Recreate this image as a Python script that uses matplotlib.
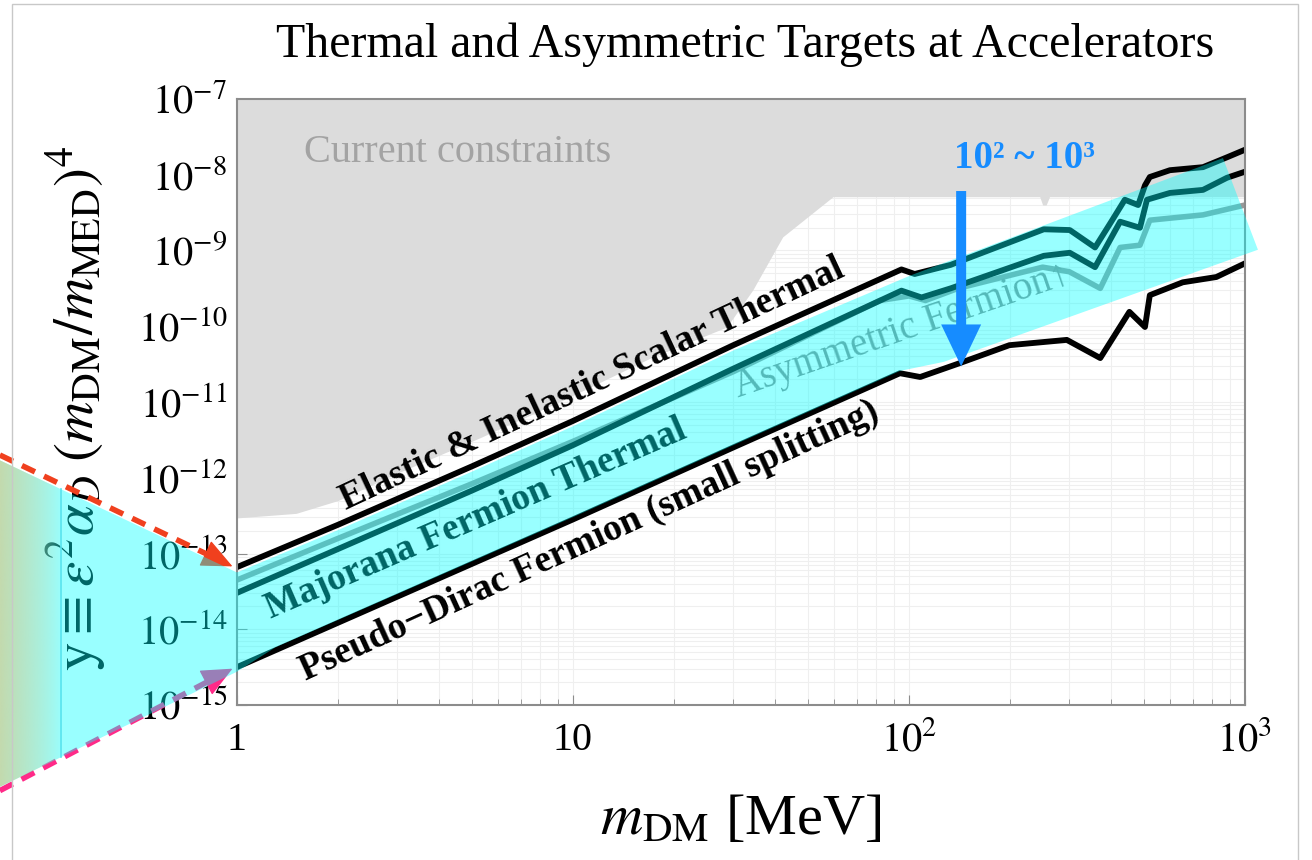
import matplotlib
matplotlib.use("agg")

import matplotlib.pyplot as plt
import numpy as np
from matplotlib.patches import Polygon, Rectangle
from matplotlib.ticker import LogLocator, NullFormatter

plt.rcParams["font.family"] = ["Liberation Serif", "DejaVu Serif"]
plt.rcParams["mathtext.fontset"] = "stix"

# Thermal target curves: dark matter mass [MeV] and log10(y).
scalar_m = [1, 2, 5, 10, 30, 95, 104, 133, 252, 301, 358, 400, 439, 481, 504,
            521, 598, 750, 884, 1000]
scalar_logy = [-13.18, -12.62, -11.85, -11.25, -10.25, -9.25, -9.31, -9.19,
               -8.72, -8.73, -8.96, -8.62, -8.33, -8.40, -8.14, -8.03, -7.94,
               -7.90, -7.77, -7.67]

majorana_m = [1, 2, 5, 10, 30, 95, 109, 133, 252, 301, 358, 425, 487, 511,
              598, 750, 884, 1000]
majorana_logy = [-13.52, -12.94, -12.17, -11.57, -10.56, -9.53, -9.62, -9.50,
                 -9.07, -9.03, -9.22, -8.62, -8.70, -8.33, -8.24, -8.20, -8.04,
                 -7.96]

asym_m = [1, 2, 5, 10, 30, 82, 100, 112, 140, 250, 300, 371, 425, 487, 521,
          750, 1000]
asym_logy = [-13.35, -12.80, -12.08, -11.52, -10.60, -9.66, -9.60, -9.66,
             -9.50, -9.22, -9.28, -9.50, -8.96, -8.93, -8.60, -8.53, -8.40]

pseudo_m = [1, 3, 10, 30, 94, 108, 141, 199, 295, 371, 453, 504, 521, 653,
            822, 1000]
pseudo_logy = [-14.50, -13.57, -12.55, -11.60, -10.62, -10.67, -10.49, -10.25,
               -10.18, -10.42, -9.81, -10.01, -9.59, -9.42, -9.35, -9.17]

# Lower edge of the "current constraints" region.
con_m = [1, 1.5, 2, 3, 5.3, 9.3, 17, 28.7, 34.3, 40.4, 42.1, 59.4, 245, 250,
         256, 262, 1000]
con_logy = [-12.53, -12.47, -12.30, -11.94, -11.47, -10.98, -10.42, -10.01,
            -9.52, -8.96, -8.82, -8.29, -8.29, -8.40, -8.40, -8.29, -8.29]

# Highlight band drawn over the plot (outline, going round).
band_m = [0.197, 1, 2, 5, 10, 30, 101, 860, 1093, 127, 94, 30, 10, 1.3, 1,
          0.197]
band_logy = [-11.77, -13.25, -12.69, -11.92, -11.32, -10.32, -9.33, -7.78,
             -8.99, -10.47, -10.59, -11.57, -12.52, -14.24, -14.56, -16.08]

xtick_vals = [1, 10, 100, 1000]
xtick_labels = ["1", "10", "$10^2$", "$10^3$"]
ytick_exp = list(range(-15, -6))
ytick_labels = ["$10^{%d}$" % k for k in ytick_exp]

fig = plt.figure(figsize=(13.12, 8.6), dpi=100)
ax = fig.add_axes([0.1806, 0.1802, 0.7683, 0.7047])
ax.set_xscale("log")
ax.set_yscale("log")

ax.grid(True, which="both", color="#efefef", lw=0.8)
ax.set_axisbelow(True)

ax.fill_between(con_m, 10.0 ** np.array(con_logy), 1e-7, color="#dcdcdc",
                lw=0, zorder=1)

ax.plot(asym_m, 10.0 ** np.array(asym_logy), color="#999999", lw=4,
        solid_joinstyle="round", zorder=2)
ax.plot(pseudo_m, 10.0 ** np.array(pseudo_logy), color="black", lw=4.2,
        solid_joinstyle="round", zorder=2)
ax.plot(majorana_m, 10.0 ** np.array(majorana_logy), color="black", lw=4.2,
        solid_joinstyle="round", zorder=2)
ax.plot(scalar_m, 10.0 ** np.array(scalar_logy), color="black", lw=4.2,
        solid_joinstyle="round", zorder=2)

# Curve labels.
bold = dict(fontsize=27, fontweight="bold", ha="center", va="center",
            rotation_mode="anchor", zorder=3)
ax.text(11.4, 10 ** -10.77, "Elastic & Inelastic Scalar Thermal",
        rotation=25.1, **bold)
ax.text(5.15, 10 ** -12.55, "Majorana Fermion Thermal", rotation=23.5, **bold)
ax.text(11.2, 10 ** -12.84, "Pseudo\u2212Dirac Fermion (small splitting)",
        rotation=24.5, **bold)
ax.text(95.5, 10 ** -10.06, "Asymmetric Fermion\u2191", rotation=19,
        fontsize=28, color="#8c8c8c", ha="center", va="center",
        rotation_mode="anchor", zorder=3)
ax.text(4.55, 10 ** -7.70, "Current constraints", fontsize=29,
        color="#a3a3a3", ha="center", va="center", zorder=3)

# Axis labels as axes texts so the band can sit on top of them.
ax.text(-0.16, 0.49,
        r"$\mathrm{y}\equiv\epsilon^2\alpha_D\;(m_{\rm DM}/m_{\rm MED})^4$",
        transform=ax.transAxes, rotation=90, fontsize=41, ha="center",
        va="center", zorder=2)
ax.text(0.5, -0.19, r"$m_{\rm DM}$ [MeV]", transform=ax.transAxes,
        fontsize=42, ha="center", va="center", zorder=2)

# Dashed arrows pointing at the band from the left.
for start, tip, col in [((0.197, -11.70), (0.97, -13.17), "#f0401e"),
                        ((0.197, -16.13), (0.97, -14.52), "#ff2a88")]:
    ls = np.log10([start[0], tip[0]])
    base_x = 10 ** (ls[0] + 0.9 * (ls[1] - ls[0]))
    base_y = 10 ** (start[1] + 0.9 * (tip[1] - start[1]))
    ax.plot([start[0], base_x], [10 ** start[1], base_y], color=col, lw=4,
            linestyle=(0, (2.6, 1.8)), solid_capstyle="butt", clip_on=False,
            zorder=3)
    ax.annotate("", xy=(tip[0], 10 ** tip[1]), xytext=(base_x, base_y),
                arrowprops=dict(arrowstyle="-|>,head_length=1.0,head_width=0.45",
                                color=col, lw=1, shrinkA=0, shrinkB=0,
                                mutation_scale=20),
                annotation_clip=False, zorder=3)

# Translucent highlight band.
band = Polygon(np.column_stack([band_m, 10.0 ** np.array(band_logy)]),
               closed=True, facecolor=(0.0, 1.0, 1.0, 0.4), edgecolor="none",
               zorder=4, clip_on=False)
ax.add_patch(band)

# Olive fade at the far left of the band.
grad = np.zeros((1, 64, 4))
grad[..., 0] = 200 / 255
grad[..., 1] = 214 / 255
grad[..., 2] = 165 / 255
grad[..., 3] = 0.9 * np.linspace(1, 0, 64) ** 0.8
x_fade = np.log10([0.197, 0.30]) / 3
im = ax.imshow(grad, extent=(x_fade[0], x_fade[1], -0.2, 0.45),
               transform=ax.transAxes, aspect="auto", zorder=4.5,
               interpolation="bilinear")
im.set_clip_box(fig.bbox)
im.set_clip_path(band)

lx = 0.30
lt = np.interp(np.log10(lx), np.log10([0.197, 1]), [band_logy[0], band_logy[1]])
lb = np.interp(np.log10(lx), np.log10([0.197, 1]), [band_logy[-1], band_logy[-2]])
ax.plot([lx, lx], [10 ** lt, 10 ** lb], color="#58e3ee", lw=1.2, zorder=4.6,
        clip_on=False)

# Blue arrow and range label.
ax.annotate("", xy=(143, 10 ** -10.53), xytext=(143, 10 ** -8.215),
            arrowprops=dict(arrowstyle="simple,head_length=0.755,head_width=0.72,tail_width=0.18",
                            color="#168cff", lw=0, shrinkA=0, shrinkB=0,
                            mutation_scale=40),
            annotation_clip=False, zorder=5)
ax.text(221, 10 ** -7.78, "10\u00b2 ~ 10\u00b3", fontsize=28,
        fontweight="bold", color="#168cff", ha="center", va="center",
        zorder=5)

ax.set_xlim(1, 1000)
ax.set_ylim(1e-15, 1e-7)
ax.set_xticks(xtick_vals)
ax.set_xticklabels(xtick_labels)
ax.xaxis.set_minor_locator(LogLocator(base=10, subs=np.arange(2, 10), numticks=100))
ax.xaxis.set_minor_formatter(NullFormatter())
ax.set_yticks([10.0 ** k for k in ytick_exp])
ax.set_yticklabels(ytick_labels)
ax.yaxis.set_minor_locator(LogLocator(base=10, subs=np.arange(2, 10), numticks=100))
ax.yaxis.set_minor_formatter(NullFormatter())

ax.tick_params(which="both", direction="in", color="#8c8c8c", labelsize=29)
ax.tick_params(axis="x", which="major", length=7, pad=12)
ax.tick_params(axis="x", which="minor", length=4)
ax.tick_params(axis="y", which="major", length=7, pad=7)
ax.tick_params(axis="y", which="minor", length=0)
for sp in ax.spines.values():
    sp.set_color("#8c8c8c")
    sp.set_linewidth(1.5)

fig.text(0.568, 0.948, "Thermal and Asymmetric Targets at Accelerators",
         fontsize=34.5, ha="center", va="center")

fig.patches.append(Rectangle((12 / 1312, -0.05), 1286 / 1312, 1.045,
                             transform=fig.transFigure, fill=False,
                             ec="#c8c8c8", lw=1))

fig.savefig("out.png", dpi=100)
